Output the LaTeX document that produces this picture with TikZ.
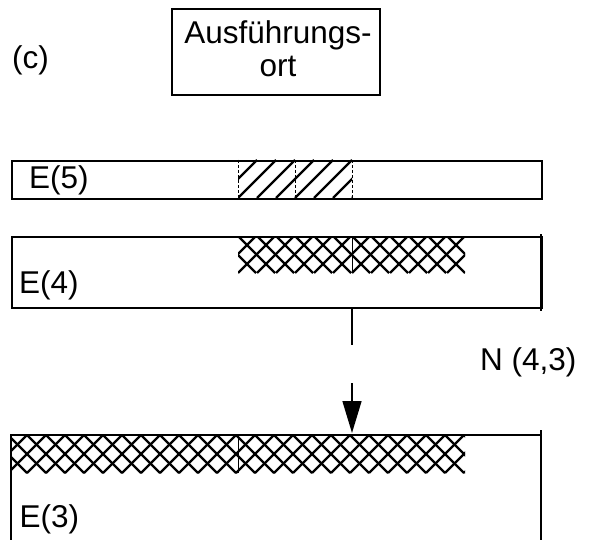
\documentclass[tikz,border=0pt]{standalone}
\usepackage{fontspec}
\setmainfont{Liberation Sans}
\usetikzlibrary{arrows.meta}
\begin{document}
\begin{tikzpicture}[x=1pt,y=-1pt,
  lbl/.style={inner sep=0pt, anchor=base west, font=\fontsize{31.5}{33}\selectfont},
  bar/.style={draw, line width=1.6pt, inner sep=0pt, anchor=north west},
  hatch/.style={line width=2.2pt},
  divider/.style={line width=1pt, dash pattern=on 3pt off 2pt},
  conn/.style={line width=1.5pt}]
\useasboundingbox (0,0) rectangle (591,540);

% title
\node[lbl] (c) at (12,68.5) {(c)};
\node[draw, line width=1.3pt, minimum width=208pt, minimum height=86pt, inner sep=0pt] (ort) at (276,52) {};
\node[inner sep=0pt, anchor=north, align=center, font=\fontsize{31.5}{33}\selectfont] (ortlabel) at (278,20.5) {Ausführungs-\\ort};

% E(5)
\node[bar, minimum width=530pt, minimum height=38pt] (e5) at (11,160) {};
\begin{scope}
  \clip (238,160) rectangle (352,198);
  \foreach \i in {181,200,...,371} \draw[hatch] (\i,198) -- (\i+38,160);
\end{scope}
\foreach \x in {238,295,352} \draw[divider] (\x,160) -- (\x,198);
\node[lbl] (l5) at (29,189) {E(5)};

% E(4)
\node[bar, minimum width=530pt, minimum height=71pt] (e4) at (11,236) {};
\draw[line width=1.6pt] (541,234) -- (541,311);
\begin{scope}
  \clip (238,236) rectangle (465,273);
  \foreach \i in {181,200,...,480} {
    \draw[hatch] (\i,273) -- (\i+37,236);
    \draw[hatch] (\i,236) -- (\i+37,273);
  }
\end{scope}
\draw[line width=0.8pt] (352,236) -- (352,273);
\node[lbl] (l4) at (19,293) {E(4)};

% E(3)
\coordinate (e3nw) at (11,435);
\coordinate (e3ne) at (541,435);
\coordinate (e3sw) at (11,540);
\coordinate (e3se) at (541,540);
\draw[line width=1.6pt] (e3sw) -- (e3nw) -- (e3ne);
\draw[line width=1.6pt] (541,430) -- (e3se);
\begin{scope}
  \clip (11,435) rectangle (465,473);
  \foreach \i in {-30,-11,...,480} {
    \draw[hatch] (\i,473) -- (\i+38,435);
    \draw[hatch] (\i,435) -- (\i+38,473);
  }
\end{scope}
\draw[line width=0.8pt] (238,435) -- (238,473);
\node[lbl] (l3) at (19.5,527) {E(3)};

% connector N(4,3)
\coordinate (a0) at (352,307);
\coordinate (a1) at (352,345);
\coordinate (a2) at (352,383);
\coordinate (a3) at (352,433);
\draw[conn] (a0) -- (a1);
\draw[conn, -{Triangle[length=32pt,width=19pt]}] (a2) -- (a3);
\node[lbl] (n43) at (480,370) {N (4,3)};
\end{tikzpicture}
\end{document}
